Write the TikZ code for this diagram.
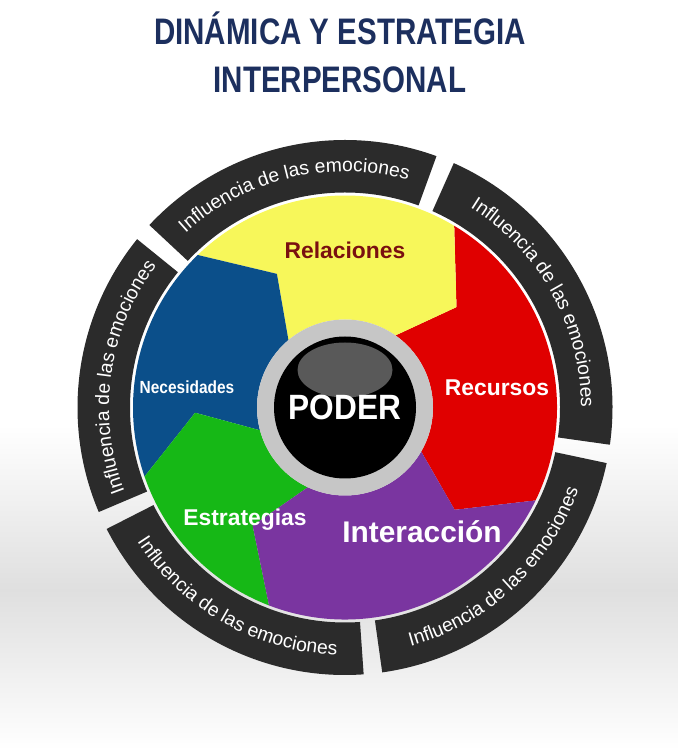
\documentclass[tikz,border=0pt]{standalone}
\usepackage{fontspec}
\setmainfont{Liberation Sans}
\usetikzlibrary{decorations.text}
\definecolor{titleblue}{HTML}{1C2F5E}
\definecolor{ringgray}{HTML}{2B2B2B}
\definecolor{cyellow}{HTML}{F7F75A}
\definecolor{cred}{HTML}{E00000}
\definecolor{cblue}{HTML}{0B4F8A}
\definecolor{cgreen}{HTML}{16B816}
\definecolor{cpurple}{HTML}{7A35A0}
\definecolor{relred}{HTML}{7A1010}
% colored wedge between two bent boundaries
\newcommand{\wedgepart}[3]{%
  \fill[#3,shift={(c)}] (#1:1.76) -- ({#1-13}:3) -- ({#1+4}:4.24)
    arc[start angle={#1+4},end angle={#2+4},radius=4.24]
    -- ({#2-13}:3) -- (#2:1.76)
    arc[start angle=#2,end angle=#1,radius=1.76] -- cycle;}
% dark ring segment
\newcommand{\ringpart}[2]{%
  \fill[ringgray,shift={(c)}] (#1:4.3) arc[start angle=#1,end angle=#2,radius=4.3]
    -- (#2:5.35) arc[start angle=#2,end angle=#1,radius=5.35] -- cycle;}
\tikzset{
  ringtext/.style={postaction={decorate,decoration={text along path,text align=center,
    text={|\color{white}\fontsize{11}{11}\selectfont|Influencia de las emociones}}}},
  lbl/.style={font=\bfseries\fontsize{13}{13}\selectfont,text=white}
}
\begin{document}
\begin{tikzpicture}
\useasboundingbox (0,0) rectangle (13.56,15);
\shade[top color=white,bottom color=gray!25] (0,3.2) rectangle (13.56,6.5);
\shade[top color=gray!25,bottom color=white] (0,0) rectangle (13.56,3.2);
\coordinate (c) at (6.9,6.85);

\node (title) at (6.8,13.95) [align=center,text=titleblue,font=\bfseries\fontsize{21}{27}\selectfont]
  {\scalebox{0.8}[1]{DINÁMICA Y ESTRATEGIA}\\\scalebox{0.8}[1]{INTERPERSONAL}};

\ringpart{70}{137}
\ringpart{141}{203}
\ringpart{207}{274}
\ringpart{278}{348}
\ringpart{-8}{66}

\path[ringtext,shift={(c)}] (135:4.72) arc[start angle=135,end angle=72,radius=4.72];
\path[ringtext,shift={(c)}] (64:4.72) arc[start angle=64,end angle=-6,radius=4.72];
\path[ringtext,shift={(c)}] (201:4.72) arc[start angle=201,end angle=143,radius=4.72];
\path[ringtext,shift={(c)}] (209:4.95) arc[start angle=209,end angle=272,radius=4.95];
\path[ringtext,shift={(c)}] (280:4.95) arc[start angle=280,end angle=346,radius=4.95];

\wedgepart{-30}{55}{cred}
\wedgepart{55}{130}{cyellow}
\wedgepart{130}{195}{cblue}
\wedgepart{195}{245}{cgreen}
\wedgepart{245}{330}{cpurple}

\fill[gray!45] (c) circle (1.76);
\fill[black] (c) circle (1.42);
\fill[white,opacity=0.35,shift={(c)}] (0,0.75) ellipse (0.95 and 0.55);

\node (poder) at (c) [text=white,font=\bfseries\fontsize{20}{20}\selectfont] {\scalebox{0.9}[1]{PODER}};
\node (relaciones) at (6.9,10.0) [lbl,text=relred] {Relaciones};
\node (recursos) at (9.94,7.24) [lbl] {Recursos};
\node (interaccion) at (8.44,4.36) [lbl,font=\bfseries\fontsize{17}{17}\selectfont] {Interacción};
\node (estrategias) at (4.9,4.6) [lbl] {Estrategias};
\node (necesidades) at (3.74,7.26) [lbl,font=\bfseries\fontsize{10}{10}\selectfont] {\scalebox{0.88}[1]{Necesidades}};
\end{tikzpicture}
\end{document}
